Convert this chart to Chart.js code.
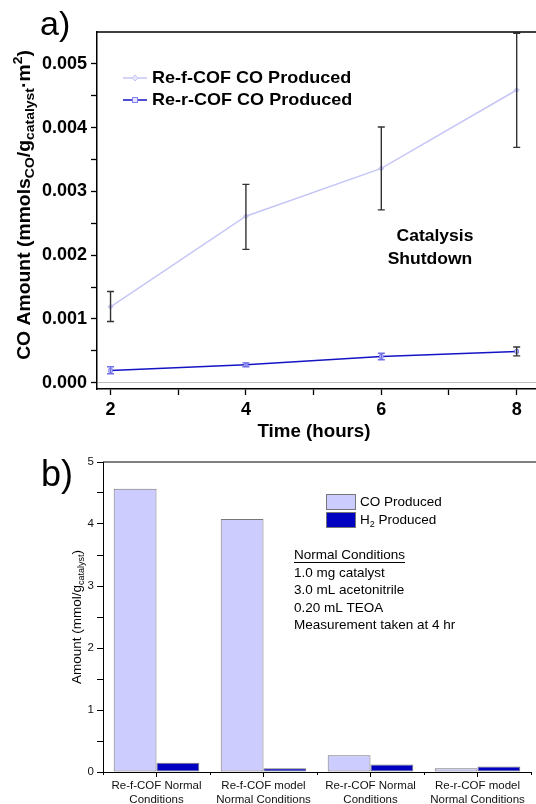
<!DOCTYPE html>
<html>
<head>
<meta charset="utf-8">
<script src="https://cdn.jsdelivr.net/npm/chart.js@4.4.1/dist/chart.umd.min.js"></script>
<style>
  html, body { margin: 0; padding: 0; background: #fff; overflow: hidden; }
  body { width: 536px; height: 804px; position: relative; }
  canvas { position: absolute; left: 0; }
  #chartA { top: 0; }
  #chartB { top: 440px; }
</style>
</head>
<body>
<canvas id="chartA" width="560" height="450"></canvas>
<canvas id="chartB" width="560" height="380"></canvas>
<script>
"use strict";
// panel a) data
const hours = [2, 4, 6, 8];
const refCO = [0.00119, 0.00261, 0.00336, 0.00459];
const refErrHigh = [0.00143, 0.00311, 0.00401, 0.00548];
const refErrLow = [0.00096, 0.00209, 0.00271, 0.00369];
const rerCO = [0.00019, 0.00028, 0.00041, 0.00049];
const rerErrHigh = [0.00025, 0.00031, 0.00046, 0.00056];
const rerErrLow = [0.00014, 0.00025, 0.00036, 0.00042];
const xTickValues = [2, 3, 4, 5, 6, 7, 8];
const yTickValuesA = [0, 0.0005, 0.001, 0.0015, 0.002, 0.0025, 0.003, 0.0035, 0.004, 0.0045, 0.005];

// panel b) data
const categories = [
  ["Re-f-COF Normal", "Conditions"],
  ["Re-f-COF model", "Normal Conditions"],
  ["Re-r-COF Normal", "Conditions"],
  ["Re-r-COF model", "Normal Conditions"]
];
const coValues = [4.57, 4.08, 0.27, 0.06];
const h2Values = [0.15, 0.06, 0.12, 0.09];
const yTickValuesB = [0, 0.5, 1, 1.5, 2, 2.5, 3, 3.5, 4, 4.5, 5];
const conditionLines = ["1.0 mg catalyst", "3.0 mL acetonitrile", "0.20 mL TEOA", "Measurement taken at 4 hr"];

const FONT = "'Liberation Sans', Arial, sans-serif";
const refColor = "#c6c6f6";
const rerColor = "#1414c4";
const coFill = "#ccccff";
const h2Fill = "#0000c0";

// draw text made of pieces with sub/superscripts (stretch = horizontal scale)
function drawRich(ctx, segs, x, y, size, weight, rotate, align, stretch) {
  const sx = stretch || 1;
  ctx.save();
  ctx.translate(x, y);
  if (rotate) ctx.rotate(-Math.PI / 2);
  ctx.scale(sx, 1);
  ctx.textBaseline = "middle";
  ctx.textAlign = "left";
  const fontFor = (s) => weight + " " + (s.sub || s.sup ? Math.round(size * 0.7) : size) + "px " + FONT;
  let total = 0;
  segs.forEach((s) => {
    ctx.font = fontFor(s);
    total += ctx.measureText(s.t).width;
  });
  let cx = align === "left" ? 0 : -total / 2;
  segs.forEach((s) => {
    ctx.font = fontFor(s);
    const dy = s.sub ? size * 0.32 : s.sup ? -size * 0.38 : 0;
    ctx.fillText(s.t, cx, dy);
    cx += ctx.measureText(s.t).width;
  });
  ctx.restore();
  return total * sx;
}

// error bars, frame and labels for panel a
const panelAPlugin = {
  id: "panelA",
  afterDatasetsDraw(chart) {
    const ctx = chart.ctx;
    const xs = chart.scales.x;
    const ys = chart.scales.y;
    const area = chart.chartArea;
    const bars = [
      { lo: refErrLow, hi: refErrHigh, colors: ["#333", "#333", "#333", "#333"] },
      { lo: rerErrLow, hi: rerErrHigh, colors: ["#6f6fe8", "#6f6fe8", "#6f6fe8", "#333"] }
    ];
    ctx.save();
    ctx.lineWidth = 1.4;
    bars.forEach((b) => {
      hours.forEach((h, i) => {
        const px = xs.getPixelForValue(h);
        const top = ys.getPixelForValue(b.hi[i]);
        const bot = ys.getPixelForValue(b.lo[i]);
        ctx.strokeStyle = b.colors[i];
        ctx.beginPath();
        ctx.moveTo(px, top); ctx.lineTo(px, bot);
        ctx.moveTo(px - 3.5, top); ctx.lineTo(px + 3.5, top);
        ctx.moveTo(px - 3.5, bot); ctx.lineTo(px + 3.5, bot);
        ctx.stroke();
      });
    });
    // frame top
    ctx.strokeStyle = "#000";
    ctx.lineWidth = 1.5;
    ctx.beginPath();
    ctx.moveTo(area.left, area.top);
    ctx.lineTo(area.right, area.top);
    ctx.lineTo(area.right, area.bottom);
    ctx.stroke();

    // legend
    const items = [
      { label: "Re-f-COF CO Produced", color: refColor, marker: "diamond", y: 78 },
      { label: "Re-r-COF CO Produced", color: rerColor, marker: "square", y: 100 }
    ];
    items.forEach((it) => {
      ctx.strokeStyle = it.color;
      ctx.lineWidth = 1.5;
      ctx.beginPath();
      ctx.moveTo(123, it.y); ctx.lineTo(147, it.y);
      ctx.stroke();
      ctx.lineWidth = 1;
      ctx.strokeStyle = it.marker === "square" ? "#8080ee" : "#c6c6f6";
      ctx.fillStyle = "#e6e6ff";
      if (it.marker === "square") {
        ctx.fillRect(132.5, it.y - 2.5, 5, 5);
        ctx.strokeRect(132.5, it.y - 2.5, 5, 5);
      } else {
        ctx.beginPath();
        ctx.moveTo(135, it.y - 3); ctx.lineTo(138, it.y); ctx.lineTo(135, it.y + 3); ctx.lineTo(132, it.y);
        ctx.closePath(); ctx.fill(); ctx.stroke();
      }
      ctx.fillStyle = "#000";
      drawRich(ctx, [{ t: it.label }], 152, it.y, 17, "bold", false, "left", 1.06);
    });

    // annotation
    ctx.fillStyle = "#000";
    drawRich(ctx, [{ t: "Catalysis" }], 435, 236, 17, "bold", false, null, 1.03);
    drawRich(ctx, [{ t: "Shutdown" }], 430, 259, 17, "bold", false, null, 1.03);

    // panel letter
    ctx.textAlign = "left";
    ctx.textBaseline = "middle";
    ctx.font = "34px " + FONT;
    ctx.fillText("a)", 40, 26);

    // axis titles
    drawRich(ctx, [{ t: "Time (hours)" }], 314, 432, 18, "bold", false, null, 1.04);
    drawRich(ctx, [
      { t: "CO Amount (mmols" }, { t: "CO", sub: true }, { t: "/g" }, { t: "catalyst", sub: true },
      { t: "\u00b7m" }, { t: "2", sup: true }, { t: ")" }
    ], 25, 205, 18, "bold", true, null, 1.075);
    ctx.restore();
  }
};

new Chart(document.getElementById("chartA").getContext("2d"), {
  type: "line",
  data: {
    datasets: [
      {
        label: "Re-f-COF CO Produced",
        data: hours.map((h, i) => ({ x: h, y: refCO[i] })),
        borderColor: refColor,
        backgroundColor: "#e6e6ff",
        borderWidth: 1.5,
        pointStyle: "rectRot",
        pointRadius: 2,
        pointBorderColor: refColor,
        tension: 0
      },
      {
        label: "Re-r-COF CO Produced",
        data: hours.map((h, i) => ({ x: h, y: rerCO[i] })),
        borderColor: rerColor,
        backgroundColor: "#e6e6ff",
        borderWidth: 1.5,
        pointStyle: "rect",
        pointRadius: 2.5,
        pointBorderColor: "#8080ee",
        pointBorderWidth: 1,
        tension: 0
      }
    ]
  },
  options: {
    responsive: false,
    animation: false,
    devicePixelRatio: 1,
    layout: { padding: { top: 32, right: 23, left: 0, bottom: 0 } },
    plugins: { legend: { display: false }, tooltip: { enabled: false } },
    scales: {
      x: {
        type: "linear",
        min: 1.8,
        max: 8.3,
        afterBuildTicks: (s) => { s.ticks = xTickValues.map((v) => ({ value: v })); },
        afterFit: (s) => { s.height = 61; },
        ticks: {
          autoSkip: false,
          maxRotation: 0,
          padding: 4,
          color: "#000",
          font: { family: FONT, size: 18, weight: "bold" },
          callback: (v) => (v % 2 === 0 ? String(v) : "")
        },
        grid: { drawOnChartArea: false, tickLength: 6, tickColor: "#000", tickWidth: 1.3 },
        border: { color: "#000", width: 1.5 }
      },
      y: {
        min: -0.0001,
        max: 0.0055,
        afterBuildTicks: (s) => { s.ticks = yTickValuesA.map((v) => ({ value: v })); },
        afterFit: (s) => { s.width = 97; },
        ticks: {
          padding: 4,
          color: "#000",
          font: { family: FONT, size: 18, weight: "bold" },
          callback: (v, i) => (i % 2 === 0 ? v.toFixed(3) : "")
        },
        grid: {
          drawOnChartArea: true,
          color: (c) => (c.tick && c.tick.value === 0 ? "#bdbdbd" : "rgba(0,0,0,0)"),
          tickColor: "#000",
          tickLength: 6,
          tickWidth: 1.3
        },
        border: { color: "#000", width: 1.5 }
      }
    }
  },
  plugins: [panelAPlugin]
});

// legend, notes and labels for panel b
const panelBPlugin = {
  id: "panelB",
  afterDraw(chart) {
    const ctx = chart.ctx;
    const area = chart.chartArea;
    const xs = chart.scales.x;
    ctx.save();
    ctx.strokeStyle = "#000";
    ctx.lineWidth = 1;
    ctx.beginPath();
    ctx.moveTo(area.left, area.top);
    ctx.lineTo(area.right + 30, area.top);
    ctx.stroke();

    // short ticks at category boundaries
    const step = xs.getPixelForValue(1) - xs.getPixelForValue(0);
    ctx.beginPath();
    for (let i = 0; i <= categories.length; i++) {
      const bx = Math.round(xs.getPixelForValue(0) - step / 2 + i * step) + 0.5;
      ctx.moveTo(bx, area.bottom);
      ctx.lineTo(bx, area.bottom + 3);
    }
    ctx.stroke();

    const legendItems = [
      { segs: [{ t: "CO Produced" }], fill: coFill, y: 62 },
      { segs: [{ t: "H" }, { t: "2", sub: true }, { t: " Produced" }], fill: h2Fill, y: 80 }
    ];
    legendItems.forEach((it) => {
      ctx.fillStyle = it.fill;
      ctx.fillRect(326, it.y - 8, 30, 16);
      ctx.strokeStyle = "#777";
      ctx.strokeRect(326.5, it.y - 7.5, 29, 15);
      ctx.fillStyle = "#000";
      drawRich(ctx, it.segs, 360, it.y, 13.5, "normal", false, "left");
    });

    ctx.fillStyle = "#000";
    const w = drawRich(ctx, [{ t: "Normal Conditions" }], 294, 115, 13.5, "normal", false, "left");
    ctx.fillRect(294, 122, w, 1);
    conditionLines.forEach((line, i) => {
      drawRich(ctx, [{ t: line }], 294, 133 + i * 17.5, 13.5, "normal", false, "left");
    });

    ctx.textAlign = "left";
    ctx.textBaseline = "middle";
    ctx.font = "36px " + FONT;
    ctx.fillText("b)", 41, 36);

    drawRich(ctx, [{ t: "Amount (mmol/g" }, { t: "catalyst", sub: true }, { t: ")" }],
      77, (area.top + area.bottom) / 2, 13.5, "normal", true);
    ctx.restore();
  }
};

new Chart(document.getElementById("chartB").getContext("2d"), {
  type: "bar",
  data: {
    labels: categories,
    datasets: [
      { label: "CO Produced", data: coValues, backgroundColor: coFill, borderColor: "#777", borderWidth: 1, borderSkipped: false },
      { label: "H2 Produced", data: h2Values, backgroundColor: h2Fill, borderColor: "#777", borderWidth: 1, borderSkipped: false }
    ]
  },
  options: {
    responsive: false,
    animation: false,
    devicePixelRatio: 1,
    layout: { padding: { top: 22, right: 29, left: 0, bottom: 0 } },
    plugins: { legend: { display: false }, tooltip: { enabled: false } },
    datasets: { bar: { categoryPercentage: 0.8, barPercentage: 1.0 } },
    scales: {
      x: {
        afterFit: (s) => { s.height = 48; },
        ticks: {
          autoSkip: false,
          maxRotation: 0,
          padding: 2,
          color: "#111",
          font: { family: FONT, size: 11.5 }
        },
        grid: { drawOnChartArea: false, tickLength: 5, tickColor: "#000", offset: false },
        border: { color: "#000", width: 1 }
      },
      y: {
        min: 0,
        max: 5,
        afterBuildTicks: (s) => { s.ticks = yTickValuesB.map((v) => ({ value: v })); },
        afterFit: (s) => { s.width = 103; },
        ticks: {
          padding: 3,
          color: "#111",
          font: { family: FONT, size: 11.5 },
          callback: (v, i) => (i % 2 === 0 ? String(v) : "")
        },
        grid: { drawOnChartArea: false, tickLength: 6, tickColor: "#000" },
        border: { color: "#000", width: 1 }
      }
    }
  },
  plugins: [panelBPlugin]
});
</script>
</body>
</html>
